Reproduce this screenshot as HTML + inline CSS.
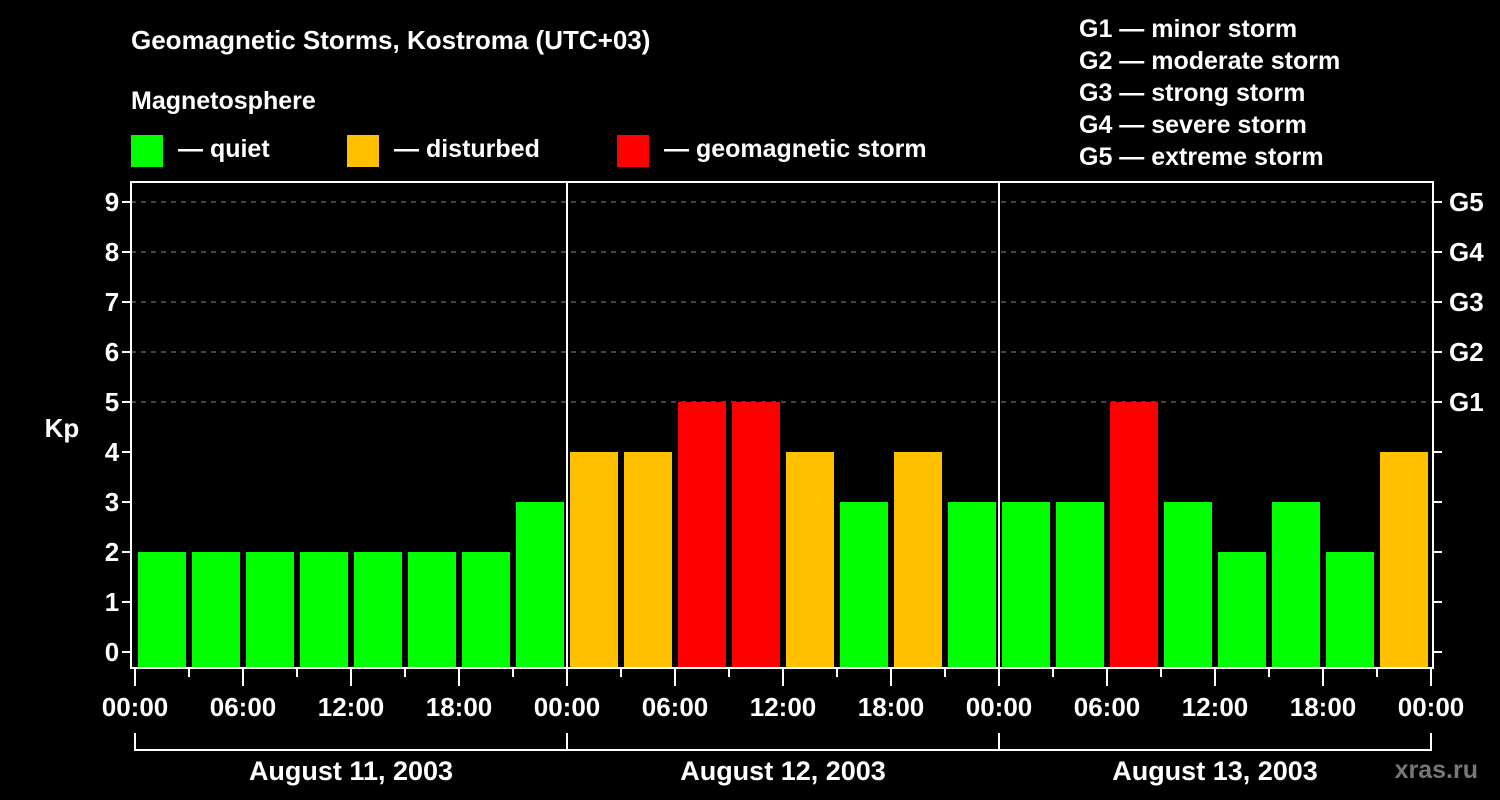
<!DOCTYPE html>
<html><head><meta charset="utf-8"><style>
html,body{margin:0;padding:0;background:#000;}
svg{display:block;font-family:"Liberation Sans",Arial,sans-serif;font-weight:bold;}
</style></head><body>
<svg id="chart" width="1500" height="800" viewBox="0 0 1500 800">
<rect width="1500" height="800" fill="#000"/>
<text x="131" y="49" fill="#fff" font-size="26">Geomagnetic Storms, Kostroma (UTC+03)</text>
<text x="131" y="109" fill="#fff" font-size="25">Magnetosphere</text>
<g><rect x="131" y="135" width="32" height="32" fill="#00ff00"/><text x="178" y="157" fill="#fff" font-size="25">— quiet</text></g>
<g><rect x="347" y="135" width="32" height="32" fill="#ffc000"/><text x="394" y="157" fill="#fff" font-size="25">— disturbed</text></g>
<g><rect x="617" y="135" width="32" height="32" fill="#ff0000"/><text x="664" y="157" fill="#fff" font-size="25">— geomagnetic storm</text></g>
<g fill="#fff" font-size="25">
<text x="1079" y="37">G1 — minor storm</text>
<text x="1079" y="69">G2 — moderate storm</text>
<text x="1079" y="101">G3 — strong storm</text>
<text x="1079" y="133">G4 — severe storm</text>
<text x="1079" y="165">G5 — extreme storm</text>
</g>
<text x="62" y="437" fill="#fff" font-size="26" text-anchor="middle">Kp</text>
<text x="1478" y="778" fill="#777" font-size="25" text-anchor="end">xras.ru</text>
<g id="grid"></g><g id="bars"></g><g id="axes"></g>
</svg>
<script>
const kpValues = [2,2,2,2,2,2,2,3, 4,4,5,5,4,3,4,3, 3,3,5,3,2,3,2,4];
const dayLabels = ["August 11, 2003","August 12, 2003","August 13, 2003"];
const hourLabels = ["00:00","06:00","12:00","18:00"];
const yTicks = [0,1,2,3,4,5,6,7,8,9];
const gLabels = ["G1","G2","G3","G4","G5"];
const NS="http://www.w3.org/2000/svg";
const x0=135, hourW=18, y0=652, unit=50, frameL=131, frameR=1433, frameT=182, frameB=668;
const xs = h => x0 + h*hourW;
const ys = v => y0 - v*unit;
function mk(tag, attrs, parent){const e=document.createElementNS(NS,tag);for(const k in attrs)e.setAttribute(k,attrs[k]);parent.appendChild(e);return e;}
const grid=document.getElementById('grid'), bars=document.getElementById('bars'), axes=document.getElementById('axes');
yTicks.forEach(v=>{ if(v>=5){const l=mk('line',{x1:frameL,x2:frameR,y1:ys(v),y2:ys(v),stroke:'#888','stroke-width':1,'stroke-dasharray':'5,5'},grid);

}});
function color(k){return k>=5?'#ff0000':(k>=4?'#ffc000':'#00ff00');}
kpValues.forEach((k,i)=>{const r=mk('rect',{x:xs(i*3)+3,y:ys(k),width:48,height:frameB-ys(k),fill:color(k)},bars);

});
// frame
const f=mk('rect',{x:frameL,y:frameT,width:frameR-frameL,height:frameB-frameT,fill:'none',stroke:'#fff','stroke-width':2},axes);


for(let d=1;d<dayLabels.length;d++){const l=mk('line',{x1:xs(d*24),x2:xs(d*24),y1:frameT,y2:frameB,stroke:'#fff','stroke-width':2},axes);

}
yTicks.forEach(v=>{
 const t=mk('line',{x1:frameL-9,x2:frameL,y1:ys(v),y2:ys(v),stroke:'#fff','stroke-width':2},axes);
 
 
 const t2=mk('line',{x1:frameR,x2:frameR+9,y1:ys(v),y2:ys(v),stroke:'#fff','stroke-width':2},axes);
 
 
 const tx=mk('text',{x:112,y:ys(v)+9,fill:'#fff','font-size':26,'text-anchor':'middle'},axes);tx.textContent=v;
 
 
});
gLabels.forEach((g,i)=>{const tx=mk('text',{x:1449,y:ys(5+i)+9,fill:'#fff','font-size':26},axes);tx.textContent=g;
 
 });
for(let h=0;h<=72;h+=3){const major=h%6===0;
 const t=mk('line',{x1:xs(h),x2:xs(h),y1:frameB,y2:major?686:677,stroke:'#fff','stroke-width':2},axes);
 
 
 if(major){const tx=mk('text',{x:xs(h),y:716,fill:'#fff','font-size':26,'text-anchor':'middle'},axes);tx.textContent=hourLabels[(h/6)%4];
 
 }}
dayLabels.forEach((d,i)=>{
 const a=xs(i*24), b=xs((i+1)*24);
 const p=mk('path',{d:`M${a},733 V750 H${b} V733`,fill:'none',stroke:'#fff','stroke-width':2},axes);
 
 
 const tx=mk('text',{x:(a+b)/2,y:780,fill:'#fff','font-size':27,'text-anchor':'middle'},axes);tx.textContent=d;
 
 
});
</script>
</body></html>
